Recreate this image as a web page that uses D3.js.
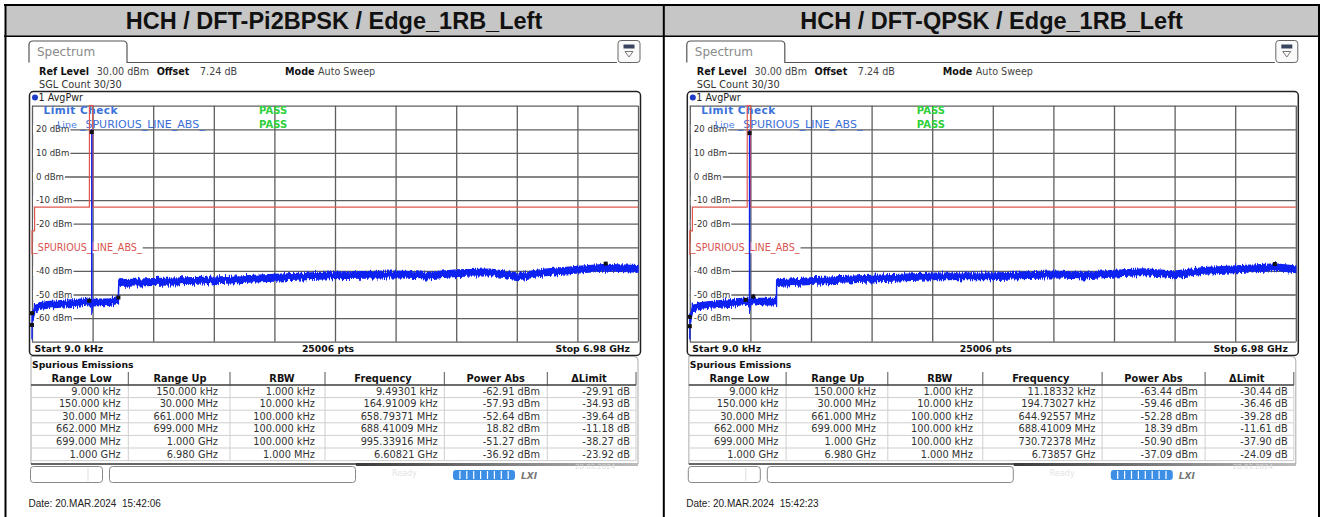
<!DOCTYPE html>
<html>
<head>
<meta charset="utf-8">
<script src="https://cdn.jsdelivr.net/npm/d3@7"></script>
<style>
body { margin: 0; background: #fff; }
text { font-family: "DejaVu Sans", Verdana, sans-serif; }
.pre { white-space: pre; }
</style>
</head>
<body>
<svg id="chart" width="1320" height="517"></svg>
<script>
const titles = ["HCH / DFT-Pi2BPSK / Edge_1RB_Left", "HCH / DFT-QPSK / Edge_1RB_Left"];
const dates = ["Date: 20.MAR.2024  15:42:06", "Date: 20.MAR.2024  15:42:23"];

// spurious emission ranges (same for both screens)
const rangeLowTxt = ["9.000 kHz", "150.000 kHz", "30.000 MHz", "662.000 MHz", "699.000 MHz", "1.000 GHz"];
const rangeUpTxt = ["150.000 kHz", "30.000 MHz", "661.000 MHz", "699.000 MHz", "1.000 GHz", "6.980 GHz"];
const rbwTxt = ["1.000 kHz", "10.000 kHz", "100.000 kHz", "100.000 kHz", "100.000 kHz", "1.000 MHz"];
const rangeLowMHz = [0.009, 0.15, 30, 662, 699, 1000];
const rangeUpMHz = [0.15, 30, 661, 699, 1000, 6980];

// DFT-Pi2BPSK peaks
const peakFreqA = [0.00949301, 0.16491009, 658.79371, 688.41009, 995.33916, 6608.21];
const powerA = [-62.91, -57.93, -52.64, 18.82, -51.27, -36.92];
const deltaA = [-29.91, -34.93, -39.64, -11.18, -38.27, -23.92];

// DFT-QPSK peaks
const peakFreqB = [0.01118332, 0.19473027, 644.92557, 688.41009, 730.72378, 6738.57];
const powerB = [-63.44, -59.46, -52.28, 18.39, -50.90, -37.09];
const deltaB = [-30.44, -36.46, -39.28, -11.61, -37.90, -24.09];

const yTicks = [20, 10, 0, -10, -20, -30, -40, -50, -60];
const limitName = "_SPURIOUS_LINE_ABS_";

// AvgPwr trace (MHz, dBm)
const traceFreqA = [0.009, 0.05, 0.12, 0.16, 10, 29, 30, 100, 200, 300, 400, 500, 600, 658, 661,
  662, 687.5, 688.41, 689.5, 699, 800, 900, 995, 1000,
  1400, 2100, 2790, 3430, 4190, 4550, 4900, 5280, 5600, 5910, 6290, 6610, 6980];
const traceLevelA = [-66, -68, -62, -58, -60, -57, -55.6, -54.8, -54.3, -54.1, -53.8, -53.6, -53.2, -52.8, -53,
  -53.5, -53.6, 18.82, -56.5, -53.4, -53.3, -53.2, -52.2, -45.2,
  -44.7, -44.0, -42.9, -41.9, -41.5, -42.0, -40.9, -40.6, -42.3, -40.6, -39.5, -38.6, -39.1];

const traceFreqB = [0.009, 0.05, 0.12, 0.2, 10, 29, 30, 100, 200, 300, 400, 500, 550, 645, 661,
  662, 687.5, 688.41, 689.5, 699, 730, 760, 900, 999, 1000.5,
  1390, 2090, 2800, 3460, 4190, 4540, 4890, 5230, 5580, 5920, 6290, 6750, 6980];
const traceLevelB = [-66, -68, -63, -59, -60, -57, -55.5, -55, -54.5, -54.2, -53.8, -53.5, -53.2, -52.8, -53,
  -53.2, -53.5, 18.39, -56, -53.2, -51.8, -53, -53, -53, -45.2,
  -44.3, -43.3, -42.3, -42.3, -41.5, -42.0, -41.2, -40.5, -41.5, -40.0, -39.3, -38.4, -39.3];

const svg = d3.select("#chart");
svg.append("rect").attr("width", 1320).attr("height", 517).attr("fill", "#fff");

// jagged look for the averaged trace (vertical displacement only)
const defs = svg.append("defs");
const flt = defs.append("filter").attr("id", "jag")
  .attr("x", "-1%").attr("y", "-30%").attr("width", "102%").attr("height", "160%");
flt.append("feTurbulence").attr("type", "fractalNoise").attr("baseFrequency", "0.9 0.03")
  .attr("numOctaves", 2).attr("seed", 3).attr("result", "n");
flt.append("feColorMatrix").attr("in", "n").attr("type", "matrix")
  .attr("values", "0 0 0 0 0.5  0 1 0 0 0  0 0 1 0 0  0 0 0 0 1").attr("result", "m");
flt.append("feDisplacementMap").attr("in", "SourceGraphic").attr("in2", "m")
  .attr("scale", 7).attr("xChannelSelector", "R").attr("yChannelSelector", "G");

// outer table with grey caption row
svg.append("rect").attr("x", 5).attr("y", 5).attr("width", 1314).attr("height", 31).attr("fill", "#c6c6c6");
const frame = svg.append("g").attr("stroke", "#000");
frame.append("line").attr("x1", 4).attr("x2", 1320).attr("y1", 5).attr("y2", 5).attr("stroke-width", 2);
frame.append("line").attr("x1", 4).attr("x2", 1320).attr("y1", 36.2).attr("y2", 36.2).attr("stroke-width", 1.5);
frame.append("line").attr("x1", 5.5).attr("x2", 5.5).attr("y1", 4).attr("y2", 517).attr("stroke-width", 2);
frame.append("line").attr("x1", 663.8).attr("x2", 663.8).attr("y1", 4).attr("y2", 517).attr("stroke-width", 2);
frame.append("line").attr("x1", 1319).attr("x2", 1319).attr("y1", 4).attr("y2", 517).attr("stroke-width", 2);

svg.selectAll(".title").data(titles).enter().append("text")
  .attr("class", "title")
  .attr("x", (d, i) => i === 0 ? 334 : 991.5)
  .attr("y", 29)
  .attr("text-anchor", "middle")
  .style("font-family", "'Liberation Sans', Arial, sans-serif")
  .style("font-weight", "bold")
  .style("font-size", "23.5px")
  .attr("fill", "#111")
  .text(d => d);

function fmtFreq(f) {
  if (f < 1) return (f * 1000).toFixed(5) + " kHz";
  if (f < 1000) return f.toFixed(5) + " MHz";
  return (f / 1000).toFixed(5) + " GHz";
}

function labelWithBg(parent, px, py, txt, size, color, bgLeft) {
  const lg = parent.append("g");
  const bg = lg.append("rect").attr("fill", "#fff");
  const t = lg.append("text").attr("x", px).attr("y", py)
    .style("font-size", size + "px").attr("fill", color).text(txt);
  const w = t.node().getComputedTextLength();
  bg.attr("x", bgLeft).attr("y", py - size * 0.85).attr("width", px - bgLeft + w + 1).attr("height", size * 1.1);
}

function drawPanel(ox, peakFreq, power, delta, traceFreq, traceLevel, date) {
  const g = svg.append("g").attr("transform", `translate(${ox},0)`);
  const x = d3.scaleLinear().domain([0.009, 6980]).range([32, 638]);
  const y = d3.scaleLinear().domain([-70, 30]).range([341.7, 105.7]);

  // tab + menu icon
  g.append("path").attr("d", "M29,62.5 V45 Q29,41 33,41 H123 Q127,41 127,45 V62.5 H617")
    .attr("fill", "none").attr("stroke", "#555").attr("stroke-width", 1.2);
  g.append("text").attr("x", 37).attr("y", 56).style("font-size", "12px").attr("fill", "#8a8a8a").text("Spectrum");
  g.append("rect").attr("x", 618).attr("y", 40.5).attr("width", 22).attr("height", 22).attr("rx", 3)
    .attr("fill", "#fafafa").attr("stroke", "#666");
  g.append("rect").attr("x", 623.5).attr("y", 44.5).attr("width", 11).attr("height", 4).attr("fill", "#3a4660");
  g.append("path").attr("d", "M625,51.5 L633,51.5 L629,57 Z").attr("fill", "none").attr("stroke", "#777");

  // settings lines
  const info = g.append("text").attr("y", 75).style("font-size", "9.6px").attr("class", "pre");
  info.append("tspan").attr("x", 39).style("font-weight", "bold").attr("fill", "#111").text("Ref Level");
  info.append("tspan").attr("x", 96.7).attr("fill", "#444").text("30.00 dBm");
  info.append("tspan").attr("x", 156.7).style("font-weight", "bold").attr("fill", "#111").text("Offset");
  info.append("tspan").attr("x", 200).attr("fill", "#444").text("7.24 dB");
  info.append("tspan").attr("x", 285).style("font-weight", "bold").attr("fill", "#111").text("Mode");
  info.append("tspan").attr("x", 318).attr("fill", "#444").text("Auto Sweep");
  g.append("text").attr("x", 39).attr("y", 87.5).style("font-size", "9.8px").attr("fill", "#333").text("SGL Count 30/30");

  // trace window frame
  g.append("rect").attr("x", 29.5).attr("y", 91.5).attr("width", 611).attr("height", 264).attr("rx", 4)
    .attr("fill", "#fff").attr("stroke", "#222").attr("stroke-width", 1.5);
  g.append("circle").attr("cx", 35).attr("cy", 97.5).attr("r", 3).attr("fill", "#1e3cc8");
  g.append("text").attr("x", 38.5).attr("y", 101).style("font-size", "9.6px").attr("fill", "#222").text("1 AvgPwr");

  // grid
  const divs = d3.range(11).map(i => 0.009 + i * (6980 - 0.009) / 10);
  const gy = g.append("g").attr("transform", "translate(32,0)")
    .call(d3.axisLeft(y).tickValues(d3.range(-70, 31, 10)).tickSize(-606).tickFormat(""));
  const gx = g.append("g").attr("transform", "translate(0,341.7)")
    .call(d3.axisBottom(x).tickValues(divs).tickSize(-236).tickFormat(""));
  [gx, gy].forEach(a => {
    a.select(".domain").remove();
    a.selectAll("line").attr("stroke", "#5e5e5e").attr("stroke-width", 1.3);
  });

  // level labels
  yTicks.filter(v => v !== -30).forEach(v => labelWithBg(g, 36, y(v) + 3, v + " dBm", 8.6, "#333", 33));

  // limit check status
  g.append("text").attr("x", 43.5).attr("y", 114).style("font-size", "10.5px").style("font-weight", "bold")
    .style("letter-spacing", "0.5px").attr("fill", "#3b72d9").text("Limit Check");
  g.append("text").attr("x", 57).attr("y", 127.5).style("font-size", "9.5px").attr("fill", "#4a7de0").text("Line");
  g.append("text").attr("x", 80).attr("y", 128.3).style("font-size", "11px").attr("fill", "#3b6fd6").text(limitName);
  [114, 128].forEach(py => g.append("text").attr("x", 259).attr("y", py).style("font-size", "10px")
    .style("font-weight", "bold").attr("fill", "#2fcf3a").text("PASS"));

  // limit line built from the table (power - delta)
  const limits = power.map((p, i) => Math.round((p - delta[i]) * 100) / 100);
  const limPts = rangeLowMHz.flatMap((lo, i) => [[lo, limits[i]], [rangeUpMHz[i], limits[i]]]);
  g.append("path").datum(limPts)
    .attr("d", d3.line().x(d => x(d[0])).y(d => y(d[1])))
    .attr("fill", "none").attr("stroke", "#e0574f").attr("stroke-width", 1.2);
  labelWithBg(g, 33, y(-30) + 3.5, limitName, 9.6, "#d9534f", 33);

  // trace
  const NOISE = 1.35;
  const trace = traceFreq.map((f, i) => [f, traceLevel[i]]);
  g.append("path").datum(trace)
    .attr("d", d3.area().x(d => x(d[0])).y0(d => y(d[1] - NOISE)).y1(d => y(d[1] + NOISE)))
    .attr("fill", "#1024f2").attr("stroke", "#1024f2").attr("stroke-width", 1.4)
    .attr("filter", "url(#jag)");

  // peak markers
  g.selectAll(".mk").data(peakFreq).enter().append("rect")
    .attr("x", d => x(d) - 2).attr("y", (d, i) => y(power[i]) - 2)
    .attr("width", 4).attr("height", 4).attr("fill", "#111");

  // start / stop row
  const foot = g.append("g").style("font-size", "9.3px").style("font-weight", "bold").attr("fill", "#111");
  foot.append("text").attr("x", 34.5).attr("y", 351.5).text("Start 9.0 kHz");
  foot.append("text").attr("x", 328).attr("y", 351.5).attr("text-anchor", "middle").text("25006 pts");
  foot.append("text").attr("x", 630).attr("y", 351.5).attr("text-anchor", "end").text("Stop 6.98 GHz");

  // spurious emissions table
  g.append("path").attr("d", "M31,464 V356.5 H634 Q638,356.5 638,360.5 V464")
    .attr("fill", "#fff").attr("stroke", "#aaa");
  g.append("text").attr("x", 32).attr("y", 367.5).style("font-size", "9.3px").style("font-weight", "bold")
    .attr("fill", "#111").text("Spurious Emissions");
  const colB = [31, 128.3, 230, 325, 444.3, 547.3, 636];
  const headC = [81.7, 180, 282, 383, 495.7, 589];
  const valR = [120.7, 218, 315, 437.7, 540, 630];
  const heads = ["Range Low", "Range Up", "RBW", "Frequency", "Power Abs", "\u0394Limit"];
  const rowH = 12.6, top0 = 385;
  const tbl = g.append("g");
  d3.range(7).forEach(k => tbl.append("line").attr("x1", 31).attr("x2", 636)
    .attr("y1", top0 + k * rowH).attr("y2", top0 + k * rowH).attr("stroke", "#cfcfcf"));
  colB.forEach(cx => tbl.append("line").attr("x1", cx).attr("x2", cx)
    .attr("y1", top0).attr("y2", top0 + 6 * rowH).attr("stroke", "#cfcfcf"));
  colB.slice(1).forEach(cx => tbl.append("line").attr("x1", cx).attr("x2", cx)
    .attr("y1", 372).attr("y2", top0).attr("stroke", "#555"));
  tbl.append("line").attr("x1", 31).attr("x2", 636).attr("y1", top0).attr("y2", top0)
    .attr("stroke", "#444").attr("stroke-width", 1.5);
  heads.forEach((h, i) => tbl.append("text").attr("x", headC[i]).attr("y", 381.5)
    .attr("text-anchor", "middle").style("font-size", "9.8px").style("font-weight", "bold").attr("fill", "#111").text(h));
  const rows = rangeLowTxt.map((lo, i) => [lo, rangeUpTxt[i], rbwTxt[i], fmtFreq(peakFreq[i]),
    power[i].toFixed(2) + " dBm", delta[i].toFixed(2) + " dB"]);
  rows.forEach((r, k) => r.forEach((c, i) => tbl.append("text").attr("x", valR[i])
    .attr("y", top0 + k * rowH + 9.6).attr("text-anchor", "end").style("font-size", "9.8px")
    .attr("fill", "#333").text(c)));
  g.append("line").attr("x1", 31).attr("x2", 638).attr("y1", 464).attr("y2", 464).attr("stroke", "#333").attr("stroke-width", 1.5);

  // status bar
  const grad = defs.append("linearGradient").attr("id", "sb" + Math.round(ox));
  grad.append("stop").attr("offset", "0%").attr("stop-color", "#3a3a3a");
  grad.append("stop").attr("offset", "100%").attr("stop-color", "#bdbdbd");
  g.append("rect").attr("x", 356).attr("y", 463).attr("width", 282).attr("height", 3).attr("fill", `url(#sb${Math.round(ox)})`);
  g.append("rect").attr("x", 30.5).attr("y", 466.5).attr("width", 72).attr("height", 16).attr("rx", 3)
    .attr("fill", "#fff").attr("stroke", "#888");
  g.append("line").attr("x1", 88).attr("x2", 88).attr("y1", 468).attr("y2", 481).attr("stroke", "#ddd");
  g.append("rect").attr("x", 109.5).attr("y", 466.5).attr("width", 246).attr("height", 16).attr("rx", 3)
    .attr("fill", "#fff").attr("stroke", "#888");
  g.append("text").attr("x", 392).attr("y", 476).style("font-size", "8px").attr("fill", "#e4e4e4").text("Ready");
  g.append("rect").attr("x", 453).attr("y", 470).attr("width", 62).attr("height", 10).attr("rx", 3).attr("fill", "#3d8fe6");
  d3.range(1, 9).forEach(k => g.append("line").attr("x1", 453 + k * 6.9).attr("x2", 453 + k * 6.9)
    .attr("y1", 471).attr("y2", 479).attr("stroke", "#fff").attr("stroke-width", 1.2));
  g.append("text").attr("x", 521).attr("y", 479).style("font-size", "9px").style("font-weight", "bold")
    .style("font-style", "italic").attr("fill", "#777").text("LXI");
  g.append("text").attr("x", 575).attr("y", 469).style("font-size", "7px").attr("fill", "#ddd").text("20.03.2024");

  g.append("text").attr("x", 28.5).attr("y", 506.5).attr("class", "pre")
    .style("font-family", "'Liberation Sans', Arial, sans-serif").style("font-size", "10px")
    .attr("fill", "#222").text(date);
}

drawPanel(0, peakFreqA, powerA, deltaA, traceFreqA, traceLevelA, dates[0]);
drawPanel(657.8, peakFreqB, powerB, deltaB, traceFreqB, traceLevelB, dates[1]);
</script>
</body>
</html>
